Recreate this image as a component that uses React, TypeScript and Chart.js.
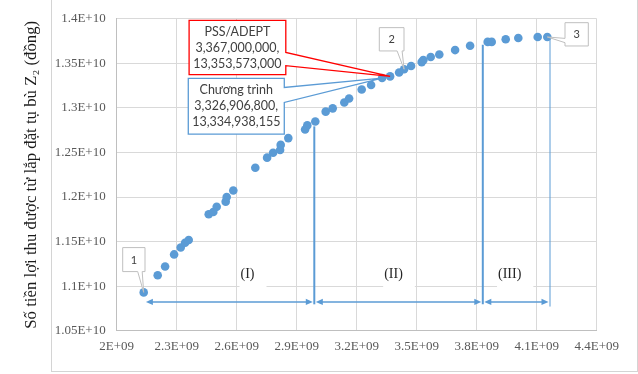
import React, { useEffect, useRef } from 'react';
import { Chart, registerables } from 'chart.js';

Chart.register(...registerables);

// ---- data ----
const xValues = [
  2.135e9, 2.205e9, 2.242e9, 2.287e9, 2.32e9, 2.342e9, 2.36e9, 2.46e9, 2.483e9, 2.5e9,
  2.545e9, 2.55e9, 2.583e9, 2.693e9, 2.752e9, 2.782e9, 2.817e9, 2.82e9, 2.858e9, 2.942e9,
  2.953e9, 2.993e9, 3.045e9, 3.08e9, 3.138e9, 3.162e9, 3.225e9, 3.272e9, 3326906800, 3367000000,
  3.412e9, 3.437e9, 3.472e9, 3.525e9, 3.533e9, 3.57e9, 3.613e9, 3.692e9, 3.767e9, 3.855e9,
  3.875e9, 3.945e9, 4.008e9, 4.105e9, 4.153e9,
];
const yValues = [
  1.093e10, 1.1122e10, 1.1221e10, 1.1356e10, 1.1433e10, 1.1487e10, 1.1517e10, 1.1806e10, 1.1832e10, 1.189e10,
  1.1948e10, 1.2e10, 1.2073e10, 1.2329e10, 1.2442e10, 1.2497e10, 1.2527e10, 1.2585e10, 1.2661e10, 1.2757e10,
  1.2804e10, 1.2848e10, 1.2958e10, 1.2995e10, 1.3061e10, 1.3105e10, 1.3207e10, 1.3258e10, 13334938155, 13353573000,
  1.3397e10, 1.3434e10, 1.347e10, 1.3514e10, 1.3536e10, 1.3572e10, 1.3599e10, 1.3649e10, 1.3697e10, 1.3741e10,
  1.3741e10, 1.377e10, 1.3785e10, 1.3796e10, 1.3796e10,
];
const xTicks = [2e9, 2.3e9, 2.6e9, 2.9e9, 3.2e9, 3.5e9, 3.8e9, 4.1e9, 4.4e9];
const yTicks = [1.05e10, 1.1e10, 1.15e10, 1.2e10, 1.25e10, 1.3e10, 1.35e10, 1.4e10];
const yTitle = 'Số tiền lợi thu được từ lắp đặt tụ bù Z₂ (đồng)';

const calloutIndices = [0, 31, 44];
const calloutLabels = ['1', '2', '3'];

const regionBounds = [2.146e9, 2.988e9, 3.8305e9, 4.1665e9];
const regionLineTops = [1.2793e10, 1.3708e10, 1.3792e10];
const regionLineBottoms = [1.0796e10, 1.0796e10, 1.0771e10];
const arrowY = 1.0823e10;
const regionLabels = ['(I)', '(II)', '(III)'];
const regionLabelX = [2.654e9, 3.384e9, 3.965e9];
const regionLabelY = 1.1136e10;

const pssPoint = [3367000000, 13353573000];
const pssLines = ['PSS/ADEPT', '3,367,000,000,', '13,353,573,000'];
const progPoint = [3326906800, 13334938155];
const progLines = ['Chương trình', '3,326,906,800,', '13,334,938,155'];

// ---- styles ----
const BLUE = '#5b9bd5';
const SERIF = "'Times New Roman', 'Liberation Serif', serif";
const SANS = "Lato, 'Noto Sans', sans-serif";

const fmtExp = (v: number) => {
  const s = Number(v).toExponential();
  const [m, e] = s.split('e');
  const n = parseInt(e, 10);
  return m.toUpperCase() + 'E' + (n < 0 ? '-' : '+') + String(Math.abs(n)).padStart(2, '0');
};

type Edge = 'bottom' | 'left' | 'right';

function calloutPath(ctx: CanvasRenderingContext2D, l: number, t: number, w: number, h: number,
  edge: Edge, b1: number, b2: number, tx: number, ty: number) {
  const r = l + w, b = t + h;
  ctx.beginPath();
  ctx.moveTo(l, t);
  ctx.lineTo(r, t);
  if (edge === 'right') {
    ctx.lineTo(r, b1); ctx.lineTo(tx, ty); ctx.lineTo(r, b2);
    ctx.lineTo(r, b); ctx.lineTo(l, b);
  } else if (edge === 'bottom') {
    ctx.lineTo(r, b); ctx.lineTo(b2, b); ctx.lineTo(tx, ty); ctx.lineTo(b1, b);
    ctx.lineTo(l, b);
  } else {
    ctx.lineTo(r, b); ctx.lineTo(l, b); ctx.lineTo(l, b2); ctx.lineTo(tx, ty); ctx.lineTo(l, b1);
  }
  ctx.closePath();
}

function arrowHead(ctx: CanvasRenderingContext2D, x: number, y: number, dir: number) {
  ctx.beginPath();
  ctx.moveTo(x, y);
  ctx.lineTo(x - dir * 7, y - 3.2);
  ctx.lineTo(x - dir * 7, y + 3.2);
  ctx.closePath();
  ctx.fill();
}

const annotPlugin = {
  id: 'annot',
  beforeDraw(chart: any) {
    const ctx = chart.ctx;
    ctx.save();
    ctx.strokeStyle = '#d4d4d4';
    ctx.lineWidth = 1;
    ctx.strokeRect(51.5, -5, 586, 376.5);
    ctx.restore();
  },
  afterDatasetsDraw(chart: any) {
    const ctx: CanvasRenderingContext2D = chart.ctx;
    const xs = chart.scales.x, ys = chart.scales.y;
    const px = (v: number) => xs.getPixelForValue(v);
    const py = (v: number) => ys.getPixelForValue(v);
    ctx.save();

    // region labels with white boxes
    ctx.font = `14px ${SERIF}`;
    ctx.textBaseline = 'middle';
    ctx.textAlign = 'center';
    regionLabels.forEach((lab, i) => {
      const cx = px(regionLabelX[i]);
      const cy = py(regionLabelY);
      const tw = ctx.measureText(lab).width;
      ctx.fillStyle = '#ffffff';
      ctx.fillRect(cx - tw / 2 - 1, cy - 11, tw + 13, 25);
      ctx.fillStyle = '#262626';
      ctx.fillText(lab, cx, cy);
    });

    // vertical lines
    ctx.strokeStyle = BLUE;
    regionLineTops.forEach((top, i) => {
      ctx.lineWidth = i < 2 ? 2 : 1;
      const x = px(regionBounds[i + 1]);
      ctx.beginPath();
      ctx.moveTo(x, py(top));
      ctx.lineTo(x, py(regionLineBottoms[i]));
      ctx.stroke();
    });

    // arrows
    ctx.lineWidth = 1.5;
    ctx.fillStyle = BLUE;
    const ay = py(arrowY);
    for (let i = 0; i < 3; i++) {
      const x1 = px(regionBounds[i]) + (i === 0 ? 0 : 1.5);
      const x2 = px(regionBounds[i + 1]) - 1.5;
      ctx.beginPath();
      ctx.moveTo(x1 + 5, ay);
      ctx.lineTo(x2 - 5, ay);
      ctx.stroke();
      arrowHead(ctx, x1, ay, -1);
      arrowHead(ctx, x2, ay, 1);
    }

    // numbered callouts
    ctx.font = `11px ${SANS}`;
    calloutIndices.forEach((idx, i) => {
      const tx = px(xValues[idx]);
      const ty = py(yValues[idx]);
      let l, t, w, h, edge: Edge, b1, b2;
      if (i === 0) { l = tx - 21; t = ty - 44.8; w = 22.3; h = 24; edge = 'bottom'; b1 = tx - 6; b2 = tx - 1.5; }
      else if (i === 1) { l = tx - 24.8; t = ty - 41.6; w = 24.7; h = 23.3; edge = 'bottom'; b1 = tx - 7; b2 = tx - 2; }
      else { l = tx + 17.7; t = ty - 14.3; w = 23.3; h = 23.3; edge = 'left'; b1 = ty + 1.4; b2 = ty + 5.7; }
      ctx.fillStyle = '#ffffff';
      ctx.strokeStyle = '#bfbfbf';
      ctx.lineWidth = 1;
      calloutPath(ctx, l, t, w, h, edge, b1, b2, tx, ty);
      ctx.fill();
      ctx.stroke();
      ctx.fillStyle = '#404040';
      ctx.fillText(calloutLabels[i], l + w / 2, t + h / 2 + 0.5);
    });

    // big callouts
    ctx.font = `12.5px ${SANS}`;
    const big = [
      { p: pssPoint, lines: pssLines, color: '#ff0000', dl: -201, dt: -56, w: 96.7, h: 54.3, b1: 32, b2: 45.3 },
      { p: progPoint, lines: progLines, color: BLUE, dl: -193.8, dt: 0.4, w: 96, h: 55.6, b1: 9, b2: 24 },
    ];
    big.forEach((c) => {
      const tx = px(c.p[0]);
      const ty = py(c.p[1]);
      const l = tx + c.dl, t = ty + c.dt;
      ctx.fillStyle = '#ffffff';
      ctx.strokeStyle = c.color;
      ctx.lineWidth = 1.3;
      calloutPath(ctx, l, t, c.w, c.h, 'right', t + c.b1, t + c.b2, tx, ty);
      ctx.fill();
      ctx.stroke();
      ctx.fillStyle = '#404040';
      c.lines.forEach((s, k) => {
        ctx.fillText(s, l + c.w / 2, t + c.h / 2 + (k - 1) * 16);
      });
    });

    ctx.restore();
  },
};

export default function App() {
  const ref = useRef<HTMLCanvasElement | null>(null);
  useEffect(() => {
    if (!ref.current) return;
    const chart = new Chart(ref.current, {
      type: 'scatter',
      data: {
        datasets: [{
          data: xValues.map((x, i) => ({ x, y: yValues[i] })),
          backgroundColor: BLUE,
          borderColor: BLUE,
          borderWidth: 0,
          pointRadius: 4.3,
          pointHoverRadius: 4.3,
        }],
      },
      options: {
        responsive: false,
        animation: false,
        devicePixelRatio: 1,
        layout: { padding: { left: 0, right: 41.3, top: 11.7, bottom: 0 } },
        plugins: { legend: { display: false }, tooltip: { enabled: false } },
        scales: {
          x: {
            type: 'linear',
            min: 2e9,
            max: 4.4e9,
            afterBuildTicks: (s: any) => { s.ticks = xTicks.map((value) => ({ value })); },
            afterFit: (s: any) => { s.height = 43.3; },
            grid: { color: '#d9d9d9', drawTicks: false, lineWidth: 1 },
            border: { color: '#bfbfbf', width: 1 },
            ticks: {
              padding: 8, color: '#595959', font: { family: SERIF, size: 13 },
              maxRotation: 0, autoSkip: false, callback: (v: any) => fmtExp(Number(v)),
            },
          },
          y: {
            type: 'linear',
            min: 1.05e10,
            max: 1.4e10,
            afterBuildTicks: (s: any) => { s.ticks = yTicks.map((value) => ({ value })); },
            afterFit: (s: any) => { s.width = 116.7; },
            grid: { color: '#d9d9d9', drawTicks: false, lineWidth: 1 },
            border: { color: '#bfbfbf', width: 1 },
            ticks: {
              padding: 11, color: '#595959', font: { family: SERIF, size: 13 },
              autoSkip: false, callback: (v: any) => fmtExp(Number(v)),
            },
            title: {
              display: true, text: yTitle, color: '#1a1a1a',
              font: { family: SERIF, size: 16.8 }, padding: { top: 21.5, bottom: 0 },
            },
          },
        },
      },
      plugins: [annotPlugin],
    } as any);
    return () => chart.destroy();
  }, []);
  return (
    <div style={{ position: 'fixed', left: 0, top: 0, width: 638, height: 374, background: '#fff' }}>
      <canvas ref={ref} width={638} height={374} style={{ display: 'block' }} />
    </div>
  );
}
